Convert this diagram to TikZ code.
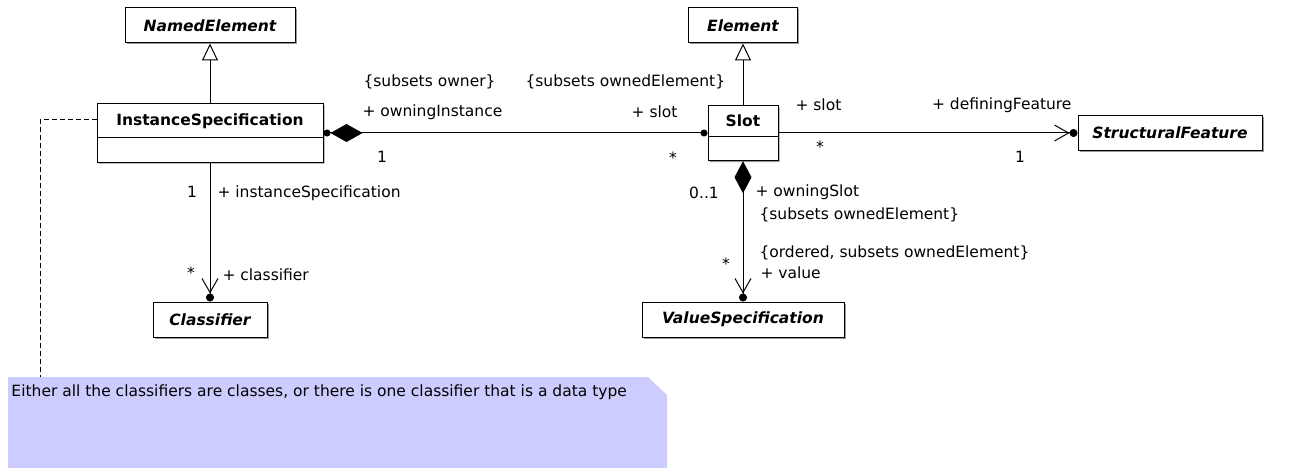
\documentclass[tikz,border=0pt]{standalone}
\usepackage{fontspec}
\setmainfont{DejaVu Sans}
\usepackage{xcolor}
\usetikzlibrary{arrows.meta,calc,positioning,shapes.multipart,shadows}
\definecolor{notecol}{RGB}{204,204,255}

\begin{document}
\begin{tikzpicture}[
    x=1pt, y=-1pt,
    line width=1pt,
    font=\fontsize{15.5}{18}\selectfont,
    shade/.style={drop shadow={shadow xshift=1.5pt,shadow yshift=-1.5pt,fill=black!40,opacity=1}},
    cls/.style={draw,fill=white,shade,inner sep=0pt,minimum height=35pt,font=\fontsize{15.5}{18}\selectfont\bfseries\itshape},
    splitcls/.style={draw,fill=white,shade,rectangle split,rectangle split parts=2,inner xsep=0pt,inner ysep=9pt,
        rectangle split empty part height=3pt,font=\fontsize{15.5}{18}\selectfont\bfseries},
    gen/.style={-{Triangle[open,length=17pt,width=16pt]}},
    comp/.style={{Circle[length=7pt]Diamond[length=32pt,width=18pt]}-{Circle[length=7pt]}},
    compv/.style={{Diamond[length=32pt,width=17pt]}-{Straight Barb[length=14pt,width=16pt]Circle[length=8pt]}},
    nav/.style={-{Straight Barb[length=14pt,width=16pt]Circle[length=8pt]}},
    lbl/.style={inner sep=0pt,anchor=west},
    lblr/.style={inner sep=0pt,anchor=east},
    mult/.style={inner sep=0pt,anchor=north},
    anchorline/.style={dash pattern=on 5pt off 3pt}
]
\useasboundingbox (0,0) rectangle (1307,468);

% --- Note ---
\fill[notecol] (8,377) -- (648,377) -- (667,395) -- (667,470) -- (8,470) -- cycle;
\node[lbl] (note) at (11,392) {Either all the classifiers are classes, or there is one classifier that is a data type};
\coordinate (noteTop) at (40,377);

% --- Classes ---
\node[cls,minimum width=170pt] (NE) at (210,25.5) {NamedElement};
\node[splitcls,minimum width=226pt] (IS) at (210,133) {InstanceSpecification\nodepart{second}};
\node[cls,minimum width=114pt] (Cls) at (210,319.5) {Classifier};

\node[cls,minimum width=109pt] (Elem) at (743,25.5) {Element};
\node[splitcls,minimum width=70pt] (Slot) at (743,133) {Slot\nodepart{second}};
\node[cls,minimum width=202pt] (VS) at (743,319.5) {ValueSpecification};

\node[cls,minimum width=184pt] (SF) at (1170,133) {StructuralFeature};

% --- Connectors ---
\draw[gen] (IS) -- (NE);
\draw[gen] (Slot) -- (Elem);
\draw[comp] (IS) -- (Slot);
\draw[nav] (Slot) -- (SF);
\draw[nav] (IS) -- (Cls);
\draw[compv] (Slot) -- (VS);
\draw[anchorline] ([yshift=-16pt]IS.north west) -| (noteTop);

% --- Association ends ---
% IS -- Slot
\node[lbl] (ownerC) at (363,82) {\{subsets owner\}};
\node[lbl] (ownerR) at (362,112) {+ owningInstance};
\node[mult] (ownerM) at (382,151) {1};
\node[lbl] (slotC) at (525,82) {\{subsets ownedElement\}};
\node[lblr] (slotR) at (678,112) {+ slot};
\node[mult] (slotM) at (673,151) {*};

% Slot -- StructuralFeature
\node[lbl] (slot2R) at (795,105) {+ slot};
\node[mult] (slot2M) at (820,140) {*};
\node[lblr] (defR) at (1072,105) {+ definingFeature};
\node[mult] (defM) at (1020,151) {1};

% IS -- Classifier
\node[mult] (isM) at (192,186) {1};
\node[lbl] (isR) at (217,193) {+ instanceSpecification};
\node[mult] (clsM) at (191,266) {*};
\node[lbl] (clsR) at (222,275) {+ classifier};

% Slot -- ValueSpecification
\node[mult] (osM) at (704,186) {0..1};
\node[lbl] (osR) at (755,192) {+ owningSlot};
\node[lbl] (osC) at (759,215) {\{subsets ownedElement\}};
\node[lbl] (valC) at (759,253) {\{ordered, subsets ownedElement\}};
\node[lbl] (valR) at (760,273) {+ value};
\node[mult] (valM) at (726,257) {*};
\end{tikzpicture}
\end{document}
